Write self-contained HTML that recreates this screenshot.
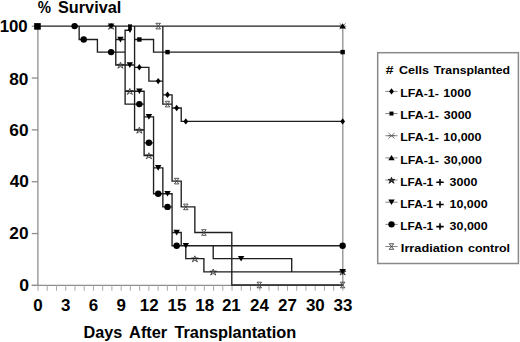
<!DOCTYPE html>
<html><head><meta charset="utf-8"><style>
html,body{margin:0;padding:0;background:#fff;}
svg{display:block;}
text{font-family:"Liberation Sans",sans-serif;font-weight:bold;fill:#000;}
</style></head><body>
<svg width="520" height="342" viewBox="0 0 520 342">
<rect width="520" height="342" fill="#fff"/>
<g stroke="#8e8e8e" stroke-width="1.3" fill="none">
<line x1="37.9" y1="25.5" x2="37.9" y2="285.40"/>
<line x1="31.8" y1="285.40" x2="343.0" y2="285.40"/>
<line x1="342.8" y1="26.1" x2="342.8" y2="285.40"/>
<line x1="31.8" y1="285.40" x2="37.9" y2="285.40"/>
<line x1="31.8" y1="233.56" x2="37.9" y2="233.56"/>
<line x1="31.8" y1="181.72" x2="37.9" y2="181.72"/>
<line x1="31.8" y1="129.88" x2="37.9" y2="129.88"/>
<line x1="31.8" y1="78.04" x2="37.9" y2="78.04"/>
<line x1="31.8" y1="26.20" x2="37.9" y2="26.20"/>
</g>
<g stroke="#aaa" stroke-width="1" fill="none">
<line x1="38.00" y1="285.40" x2="38.00" y2="290.8"/>
<line x1="47.24" y1="285.40" x2="47.24" y2="290.8"/>
<line x1="56.48" y1="285.40" x2="56.48" y2="290.8"/>
<line x1="65.72" y1="285.40" x2="65.72" y2="290.8"/>
<line x1="74.96" y1="285.40" x2="74.96" y2="290.8"/>
<line x1="84.20" y1="285.40" x2="84.20" y2="290.8"/>
<line x1="93.44" y1="285.40" x2="93.44" y2="290.8"/>
<line x1="102.68" y1="285.40" x2="102.68" y2="290.8"/>
<line x1="111.92" y1="285.40" x2="111.92" y2="290.8"/>
<line x1="121.16" y1="285.40" x2="121.16" y2="290.8"/>
<line x1="130.40" y1="285.40" x2="130.40" y2="290.8"/>
<line x1="139.64" y1="285.40" x2="139.64" y2="290.8"/>
<line x1="148.88" y1="285.40" x2="148.88" y2="290.8"/>
<line x1="158.12" y1="285.40" x2="158.12" y2="290.8"/>
<line x1="167.36" y1="285.40" x2="167.36" y2="290.8"/>
<line x1="176.60" y1="285.40" x2="176.60" y2="290.8"/>
<line x1="185.84" y1="285.40" x2="185.84" y2="290.8"/>
<line x1="195.08" y1="285.40" x2="195.08" y2="290.8"/>
<line x1="204.32" y1="285.40" x2="204.32" y2="290.8"/>
<line x1="213.56" y1="285.40" x2="213.56" y2="290.8"/>
<line x1="222.80" y1="285.40" x2="222.80" y2="290.8"/>
<line x1="232.04" y1="285.40" x2="232.04" y2="290.8"/>
<line x1="241.28" y1="285.40" x2="241.28" y2="290.8"/>
<line x1="250.52" y1="285.40" x2="250.52" y2="290.8"/>
<line x1="259.76" y1="285.40" x2="259.76" y2="290.8"/>
<line x1="269.00" y1="285.40" x2="269.00" y2="290.8"/>
<line x1="278.24" y1="285.40" x2="278.24" y2="290.8"/>
<line x1="287.48" y1="285.40" x2="287.48" y2="290.8"/>
<line x1="296.72" y1="285.40" x2="296.72" y2="290.8"/>
<line x1="305.96" y1="285.40" x2="305.96" y2="290.8"/>
<line x1="315.20" y1="285.40" x2="315.20" y2="290.8"/>
<line x1="324.44" y1="285.40" x2="324.44" y2="290.8"/>
<line x1="333.68" y1="285.40" x2="333.68" y2="290.8"/>
<line x1="342.92" y1="285.40" x2="342.92" y2="290.8"/>
</g>
<g stroke="#1e1e1e" stroke-width="1.35" fill="none" stroke-linejoin="miter" stroke-linecap="square">
<path d="M37.50 26.10 L79.16 26.10 L79.16 39.50 L97.41 39.50 L97.41 52.10 L125.12 52.10 L125.12 104.10 L144.12 104.10 L144.12 142.80 L153.55 142.80 L153.55 193.70 L162.85 193.70 L162.85 206.90 L172.07 206.90 L172.07 245.70 L342.65 245.70 M37.50 26.10 L134.58 26.10 L134.58 67.30 L148.90 67.30 L148.90 81.10 L162.85 81.10 L162.85 94.80 L172.07 94.80 L172.07 108.00 L181.23 108.00 L181.23 121.40 L342.65 121.40 M37.50 26.10 L134.58 26.10 L134.58 39.50 L153.55 39.50 L153.55 52.10 L342.65 52.10 M37.50 26.10 L342.65 26.10 M37.50 26.10 L115.78 26.10 L115.78 39.50 L125.12 39.50 L125.12 65.00 L134.58 65.00 L134.58 91.20 L144.12 91.20 L144.12 116.80 L153.55 116.80 L153.55 167.80 L162.85 167.80 L162.85 193.70 L172.07 193.70 L172.07 232.50 L181.23 232.50 L181.23 245.70 L213.20 245.70 L213.20 258.60 L291.71 258.60 L291.71 271.80 L342.65 271.80 M37.50 26.10 L115.78 26.10 L115.78 65.00 L125.12 65.00 L125.12 91.20 L134.58 91.20 L134.58 130.00 L144.12 130.00 L144.12 155.50 L153.55 155.50 L153.55 193.70 L162.85 193.70 L162.85 206.90 L172.07 206.90 L172.07 245.70 L185.80 245.70 L185.80 258.60 L203.90 258.60 L203.90 271.80 L342.65 271.80 M37.50 26.10 L162.85 26.10 L162.85 104.10 L172.07 104.10 L172.07 181.10 L181.23 181.10 L181.23 206.90 L194.85 206.90 L194.85 232.50 L231.80 232.50 L231.80 285.00 L342.65 285.00 M125.12 40 L125.12 30.2 L130.0 30.2"/>
</g>
<path d="M339.65 23.30l6 5.6M345.65 23.30l-6 5.6M339.15 26.10h7" stroke="#555" stroke-width="0.8" fill="none"/>
<path d="M155.90 23.30h4.60l-4.60 5.60h4.60z" stroke="#444" stroke-width="0.9" fill="none"/>
<path d="M165.20 101.30h4.60l-4.60 5.60h4.60z" stroke="#444" stroke-width="0.9" fill="none"/>
<path d="M174.35 178.30h4.60l-4.60 5.60h4.60z" stroke="#444" stroke-width="0.9" fill="none"/>
<path d="M183.50 204.10h4.60l-4.60 5.60h4.60z" stroke="#444" stroke-width="0.9" fill="none"/>
<path d="M201.60 229.70h4.60l-4.60 5.60h4.60z" stroke="#444" stroke-width="0.9" fill="none"/>
<path d="M257.00 282.20h4.60l-4.60 5.60h4.60z" stroke="#444" stroke-width="0.9" fill="none"/>
<path d="M340.35 282.20h4.60l-4.60 5.60h4.60z" stroke="#444" stroke-width="0.9" fill="none"/>
<polygon points="111.10,23.35 111.86,25.35 114.40,25.50 112.34,26.80 113.70,29.30 111.10,27.70 108.50,29.30 109.86,26.80 107.80,25.50 110.34,25.35" fill="none" stroke="#222" stroke-width="0.8"/>
<polygon points="120.45,62.25 121.21,64.25 123.75,64.40 121.69,65.70 123.05,68.20 120.45,66.60 117.85,68.20 119.21,65.70 117.15,64.40 119.69,64.25" fill="none" stroke="#222" stroke-width="0.8"/>
<polygon points="129.80,88.45 130.56,90.45 133.10,90.60 131.04,91.90 132.40,94.40 129.80,92.80 127.20,94.40 128.56,91.90 126.50,90.60 129.04,90.45" fill="none" stroke="#222" stroke-width="0.8"/>
<polygon points="139.35,127.25 140.11,129.25 142.65,129.40 140.59,130.70 141.95,133.20 139.35,131.60 136.75,133.20 138.11,130.70 136.05,129.40 138.59,129.25" fill="none" stroke="#222" stroke-width="0.8"/>
<polygon points="148.90,152.75 149.66,154.75 152.20,154.90 150.14,156.20 151.50,158.70 148.90,157.10 146.30,158.70 147.66,156.20 145.60,154.90 148.14,154.75" fill="none" stroke="#222" stroke-width="0.8"/>
<polygon points="194.85,255.85 195.61,257.85 198.15,258.00 196.09,259.30 197.45,261.80 194.85,260.20 192.25,261.80 193.61,259.30 191.55,258.00 194.09,257.85" fill="none" stroke="#222" stroke-width="0.8"/>
<polygon points="213.20,269.05 213.96,271.05 216.50,271.20 214.44,272.50 215.80,275.00 213.20,273.40 210.60,275.00 211.96,272.50 209.90,271.20 212.44,271.05" fill="none" stroke="#222" stroke-width="0.8"/>
<polygon points="342.65,269.05 343.41,271.05 345.95,271.20 343.89,272.50 345.25,275.00 342.65,273.40 340.05,275.00 341.41,272.50 339.35,271.20 341.89,271.05" fill="none" stroke="#222" stroke-width="0.8"/>
<path d="M107.90 23.41h6.40l-3.20 5.60z" fill="#000"/>
<path d="M117.25 36.81h6.40l-3.20 5.60z" fill="#000"/>
<path d="M126.60 62.31h6.40l-3.20 5.60z" fill="#000"/>
<path d="M136.15 88.51h6.40l-3.20 5.60z" fill="#000"/>
<path d="M145.70 114.11h6.40l-3.20 5.60z" fill="#000"/>
<path d="M155.00 165.11h6.40l-3.20 5.60z" fill="#000"/>
<path d="M164.30 191.01h6.40l-3.20 5.60z" fill="#000"/>
<path d="M173.45 229.81h6.40l-3.20 5.60z" fill="#000"/>
<path d="M182.60 243.01h6.40l-3.20 5.60z" fill="#000"/>
<path d="M237.90 255.91h6.40l-3.20 5.60z" fill="#000"/>
<path d="M339.45 269.11h6.40l-3.20 5.60z" fill="#000"/>
<circle cx="74.60" cy="26.10" r="3.20" fill="#000"/>
<circle cx="83.72" cy="39.50" r="3.20" fill="#000"/>
<circle cx="111.10" cy="52.10" r="3.20" fill="#000"/>
<circle cx="139.35" cy="104.10" r="3.20" fill="#000"/>
<circle cx="148.90" cy="142.80" r="3.20" fill="#000"/>
<circle cx="158.20" cy="193.70" r="3.20" fill="#000"/>
<circle cx="167.50" cy="206.90" r="3.20" fill="#000"/>
<circle cx="176.65" cy="245.70" r="3.20" fill="#000"/>
<circle cx="342.65" cy="245.70" r="3.20" fill="#000"/>
<rect x="137.15" y="37.30" width="4.40" height="4.40" fill="#000"/>
<rect x="165.30" y="49.90" width="4.40" height="4.40" fill="#000"/>
<rect x="340.45" y="49.90" width="4.40" height="4.40" fill="#000"/>
<path d="M139.35 64.10l2.40 3.20l-2.40 3.20l-2.40 -3.20z" fill="#000"/>
<path d="M158.20 77.90l2.40 3.20l-2.40 3.20l-2.40 -3.20z" fill="#000"/>
<path d="M167.50 91.60l2.40 3.20l-2.40 3.20l-2.40 -3.20z" fill="#000"/>
<path d="M176.65 104.80l2.40 3.20l-2.40 3.20l-2.40 -3.20z" fill="#000"/>
<path d="M185.80 118.20l2.40 3.20l-2.40 3.20l-2.40 -3.20z" fill="#000"/>
<path d="M342.65 118.20l2.40 3.20l-2.40 3.20l-2.40 -3.20z" fill="#000"/>
<path d="M342.65 23.13l3.20 5.40h-6.40z" fill="#000"/>
<path d="M128.1 24.0L129.2 24.6L130.0 24.3L130.8 24.6L131.9 24.0L131.8 28.2L132.1 29.3L130.0 33.0L127.9 29.3L128.2 28.2Z" fill="#000"/>
<rect x="34.15" y="23.10" width="6.60" height="6.60" fill="#000"/>
<text transform="translate(37.83 12.50) scale(0.9328 1)" font-size="16">%</text>
<text transform="translate(57.99 12.50) scale(1.0165 1)" font-size="16">Survival</text>
<text transform="translate(-0.30 32.20) scale(1.0500 1)" font-size="16">100</text>
<text transform="translate(9.23 84.60) scale(1.0800 1)" font-size="16">80</text>
<text transform="translate(9.33 136.20) scale(1.0800 1)" font-size="16">60</text>
<text transform="translate(9.63 187.20) scale(1.0800 1)" font-size="16">40</text>
<text transform="translate(9.33 239.20) scale(1.0800 1)" font-size="16">20</text>
<text transform="translate(19.18 291.40) scale(1.1000 1)" font-size="16">0</text>
<text transform="translate(33.34 310.90) scale(1.0600 1)" font-size="16">0</text>
<text transform="translate(61.11 310.90) scale(1.0600 1)" font-size="16">3</text>
<text transform="translate(88.72 310.90) scale(1.0600 1)" font-size="16">6</text>
<text transform="translate(116.44 310.90) scale(1.0600 1)" font-size="16">9</text>
<text transform="translate(139.83 310.90) scale(1.0600 1)" font-size="16">12</text>
<text transform="translate(167.50 310.90) scale(1.0600 1)" font-size="16">15</text>
<text transform="translate(195.22 310.90) scale(1.0600 1)" font-size="16">18</text>
<text transform="translate(221.90 310.90) scale(1.0600 1)" font-size="16">21</text>
<text transform="translate(250.06 310.90) scale(1.0600 1)" font-size="16">24</text>
<text transform="translate(278.10 310.90) scale(1.0600 1)" font-size="16">27</text>
<text transform="translate(305.93 310.90) scale(1.0600 1)" font-size="16">30</text>
<text transform="translate(333.59 310.90) scale(1.0600 1)" font-size="16">33</text>
<text transform="translate(83.59 337.80) scale(1.0110 1)" font-size="16">Days</text>
<text transform="translate(129.09 337.80) scale(1.0218 1)" font-size="16">After</text>
<text transform="translate(174.40 337.80) scale(1.0229 1)" font-size="16">Transplantation</text>
<rect x="377.7" y="52.7" width="140.7" height="210.8" fill="none" stroke="#8a8a8a" stroke-width="1.5"/>
<text transform="translate(385.67 74.40) scale(1.2000 1)" font-size="11.6">#</text>
<text transform="translate(398.88 74.40) scale(1.0830 1)" font-size="11.6">Cells</text>
<text transform="translate(433.70 74.40) scale(1.0597 1)" font-size="11.6">Transplanted</text>
<line x1="385.3" y1="91.40" x2="397.6" y2="91.40" stroke="#777" stroke-width="0.9"/>
<path d="M391.50 88.20l2.40 3.20l-2.40 3.20l-2.40 -3.20z" fill="#000"/>
<text transform="translate(400.27 97.10) scale(1.0690 1)" font-size="11.6">LFA-1-</text>
<text transform="translate(443.37 97.10) scale(1.0752 1)" font-size="11.6">1000</text>
<line x1="385.3" y1="113.56" x2="397.6" y2="113.56" stroke="#777" stroke-width="0.9"/>
<rect x="389.50" y="111.56" width="4.00" height="4.00" fill="#000"/>
<text transform="translate(400.27 119.26) scale(1.0690 1)" font-size="11.6">LFA-1-</text>
<text transform="translate(443.79 119.26) scale(1.0752 1)" font-size="11.6">3000</text>
<line x1="385.3" y1="135.72" x2="397.6" y2="135.72" stroke="#777" stroke-width="0.9"/>
<path d="M388.50 132.92l6 5.6M394.50 132.92l-6 5.6M388.00 135.72h7" stroke="#555" stroke-width="0.8" fill="none"/>
<text transform="translate(400.27 141.42) scale(1.0690 1)" font-size="11.6">LFA-1-</text>
<text transform="translate(443.37 141.42) scale(1.0752 1)" font-size="11.6">10,000</text>
<line x1="385.3" y1="157.88" x2="397.6" y2="157.88" stroke="#777" stroke-width="0.9"/>
<path d="M391.50 154.91l3.20 5.40h-6.40z" fill="#000"/>
<text transform="translate(400.27 163.58) scale(1.0690 1)" font-size="11.6">LFA-1-</text>
<text transform="translate(443.79 163.58) scale(1.0752 1)" font-size="11.6">30,000</text>
<line x1="385.3" y1="180.04" x2="397.6" y2="180.04" stroke="#777" stroke-width="0.9"/>
<polygon points="391.50,177.29 392.26,179.29 394.80,179.44 392.74,180.74 394.10,183.24 391.50,181.64 388.90,183.24 390.26,180.74 388.20,179.44 390.74,179.29" fill="#333" stroke="#111" stroke-width="0.8"/>
<text transform="translate(400.31 185.74) scale(1.0216 1)" font-size="11.6">LFA-1</text>
<path d="M436.3 181.49h7.4v1.6h-7.4zM439.2 179.04h1.6v6.5h-1.6z" fill="#000"/>
<text transform="translate(449.59 185.74) scale(1.0752 1)" font-size="11.6">3000</text>
<line x1="385.3" y1="202.20" x2="397.6" y2="202.20" stroke="#777" stroke-width="0.9"/>
<path d="M388.30 199.51h6.40l-3.20 5.60z" fill="#000"/>
<text transform="translate(400.31 207.90) scale(1.0216 1)" font-size="11.6">LFA-1</text>
<path d="M436.3 203.65h7.4v1.6h-7.4zM439.2 201.20h1.6v6.5h-1.6z" fill="#000"/>
<text transform="translate(449.47 207.90) scale(1.0752 1)" font-size="11.6">10,000</text>
<line x1="385.3" y1="224.36" x2="397.6" y2="224.36" stroke="#777" stroke-width="0.9"/>
<circle cx="391.50" cy="224.36" r="3.20" fill="#000"/>
<text transform="translate(400.31 230.06) scale(1.0216 1)" font-size="11.6">LFA-1</text>
<path d="M436.3 225.81h7.4v1.6h-7.4zM439.2 223.36h1.6v6.5h-1.6z" fill="#000"/>
<text transform="translate(449.59 230.06) scale(1.0752 1)" font-size="11.6">30,000</text>
<line x1="385.3" y1="246.52" x2="397.6" y2="246.52" stroke="#777" stroke-width="0.9"/>
<path d="M389.20 243.72h4.60l-4.60 5.60h4.60z" stroke="#444" stroke-width="0.9" fill="none"/>
<text transform="translate(400.85 252.22) scale(1.0997 1)" font-size="11.6">Irradiation</text>
<text transform="translate(467.98 252.22) scale(1.0713 1)" font-size="11.6">control</text>
</svg>
</body></html>
